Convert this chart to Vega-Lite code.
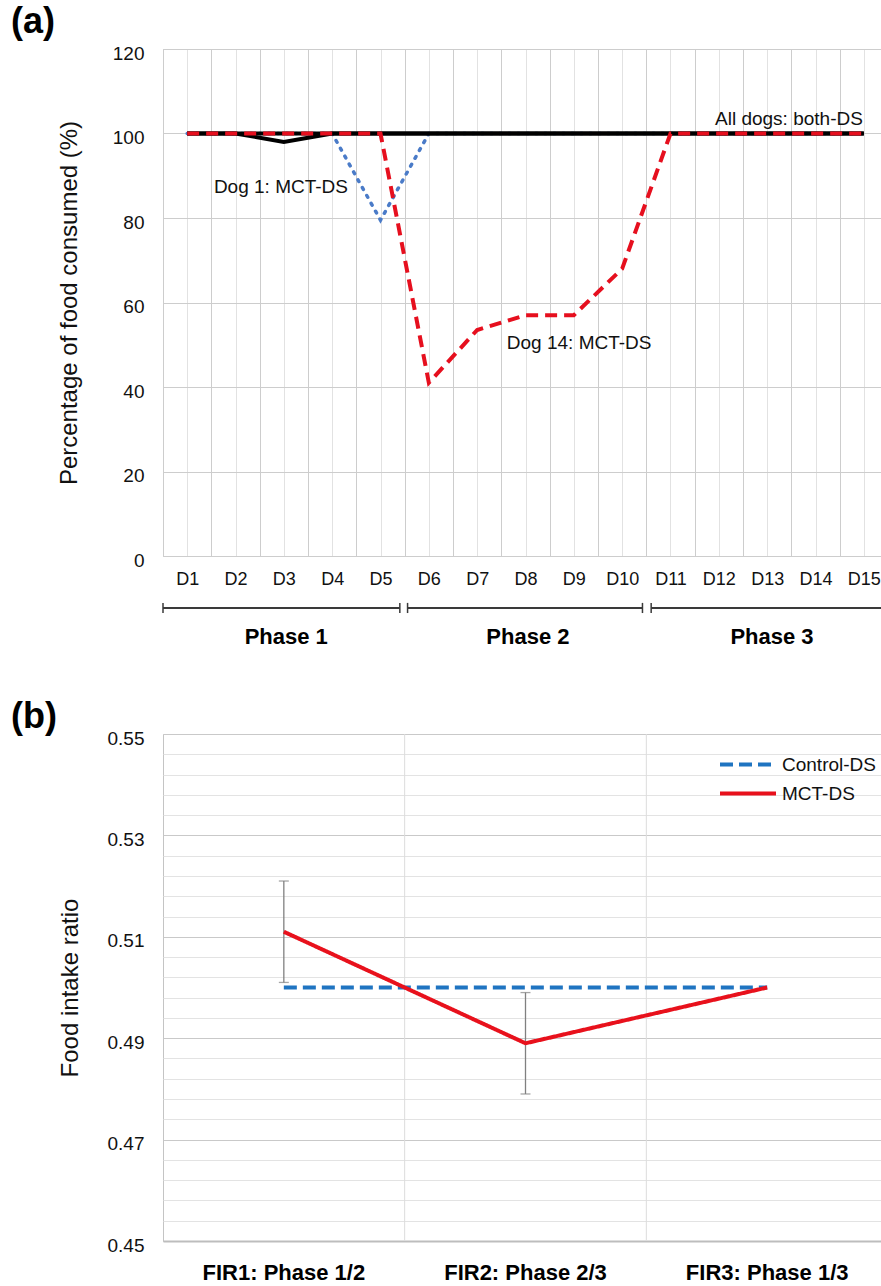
{
  "$schema": "https://vega.github.io/schema/vega-lite/v6.json",
  "background": "white",
  "padding": {"left": 10, "top": 3, "right": 0, "bottom": 0},
  "spacing": 49,
  "resolve": {"legend": {"color": "independent", "strokeDash": "independent"}},
  "config": {
    "font": "Liberation Sans",
    "view": {"stroke": "#c4c4c4", "strokeWidth": 1},
    "axis": {"labelColor": "#111", "titleColor": "#111", "labelFont": "Liberation Sans", "titleFont": "Liberation Sans", "titleFontWeight": "normal", "ticks": false, "domain": false, "labelFlush": false},
    "title": {"font": "Liberation Sans", "fontWeight": "bold", "fontSize": 36, "anchor": "start", "frame": "group", "dx": -152, "color": "#000"},
    "text": {"font": "Liberation Sans"}
  },
  "datasets": {
    "intake": [
      {"day": 1, "group": "All dogs: both-DS", "dog": "all", "pct": 100},
      {"day": 2, "group": "All dogs: both-DS", "dog": "all", "pct": 100},
      {"day": 3, "group": "All dogs: both-DS", "dog": "all", "pct": 100},
      {"day": 4, "group": "All dogs: both-DS", "dog": "all", "pct": 100},
      {"day": 5, "group": "All dogs: both-DS", "dog": "all", "pct": 100},
      {"day": 6, "group": "All dogs: both-DS", "dog": "all", "pct": 100},
      {"day": 7, "group": "All dogs: both-DS", "dog": "all", "pct": 100},
      {"day": 8, "group": "All dogs: both-DS", "dog": "all", "pct": 100},
      {"day": 9, "group": "All dogs: both-DS", "dog": "all", "pct": 100},
      {"day": 10, "group": "All dogs: both-DS", "dog": "all", "pct": 100},
      {"day": 11, "group": "All dogs: both-DS", "dog": "all", "pct": 100},
      {"day": 12, "group": "All dogs: both-DS", "dog": "all", "pct": 100},
      {"day": 13, "group": "All dogs: both-DS", "dog": "all", "pct": 100},
      {"day": 14, "group": "All dogs: both-DS", "dog": "all", "pct": 100},
      {"day": 15, "group": "All dogs: both-DS", "dog": "all", "pct": 100},
      {"day": 1, "group": "All dogs: both-DS", "dog": "dip", "pct": 100},
      {"day": 2, "group": "All dogs: both-DS", "dog": "dip", "pct": 100},
      {"day": 3, "group": "All dogs: both-DS", "dog": "dip", "pct": 98},
      {"day": 4, "group": "All dogs: both-DS", "dog": "dip", "pct": 100},
      {"day": 5, "group": "All dogs: both-DS", "dog": "dip", "pct": 100},
      {"day": 6, "group": "All dogs: both-DS", "dog": "dip", "pct": 100},
      {"day": 7, "group": "All dogs: both-DS", "dog": "dip", "pct": 100},
      {"day": 8, "group": "All dogs: both-DS", "dog": "dip", "pct": 100},
      {"day": 9, "group": "All dogs: both-DS", "dog": "dip", "pct": 100},
      {"day": 10, "group": "All dogs: both-DS", "dog": "dip", "pct": 100},
      {"day": 11, "group": "All dogs: both-DS", "dog": "dip", "pct": 100},
      {"day": 12, "group": "All dogs: both-DS", "dog": "dip", "pct": 100},
      {"day": 13, "group": "All dogs: both-DS", "dog": "dip", "pct": 100},
      {"day": 14, "group": "All dogs: both-DS", "dog": "dip", "pct": 100},
      {"day": 15, "group": "All dogs: both-DS", "dog": "dip", "pct": 100},
      {"day": 1, "group": "Dog 1: MCT-DS", "dog": "Dog 1", "pct": 100},
      {"day": 2, "group": "Dog 1: MCT-DS", "dog": "Dog 1", "pct": 100},
      {"day": 3, "group": "Dog 1: MCT-DS", "dog": "Dog 1", "pct": 100},
      {"day": 4, "group": "Dog 1: MCT-DS", "dog": "Dog 1", "pct": 100},
      {"day": 5, "group": "Dog 1: MCT-DS", "dog": "Dog 1", "pct": 79.5},
      {"day": 6, "group": "Dog 1: MCT-DS", "dog": "Dog 1", "pct": 100},
      {"day": 7, "group": "Dog 1: MCT-DS", "dog": "Dog 1", "pct": 100},
      {"day": 8, "group": "Dog 1: MCT-DS", "dog": "Dog 1", "pct": 100},
      {"day": 9, "group": "Dog 1: MCT-DS", "dog": "Dog 1", "pct": 100},
      {"day": 10, "group": "Dog 1: MCT-DS", "dog": "Dog 1", "pct": 100},
      {"day": 11, "group": "Dog 1: MCT-DS", "dog": "Dog 1", "pct": 100},
      {"day": 12, "group": "Dog 1: MCT-DS", "dog": "Dog 1", "pct": 100},
      {"day": 13, "group": "Dog 1: MCT-DS", "dog": "Dog 1", "pct": 100},
      {"day": 14, "group": "Dog 1: MCT-DS", "dog": "Dog 1", "pct": 100},
      {"day": 15, "group": "Dog 1: MCT-DS", "dog": "Dog 1", "pct": 100},
      {"day": 1, "group": "Dog 14: MCT-DS", "dog": "Dog 14", "pct": 100},
      {"day": 2, "group": "Dog 14: MCT-DS", "dog": "Dog 14", "pct": 100},
      {"day": 3, "group": "Dog 14: MCT-DS", "dog": "Dog 14", "pct": 100},
      {"day": 4, "group": "Dog 14: MCT-DS", "dog": "Dog 14", "pct": 100},
      {"day": 5, "group": "Dog 14: MCT-DS", "dog": "Dog 14", "pct": 100},
      {"day": 6, "group": "Dog 14: MCT-DS", "dog": "Dog 14", "pct": 41},
      {"day": 7, "group": "Dog 14: MCT-DS", "dog": "Dog 14", "pct": 53.5},
      {"day": 8, "group": "Dog 14: MCT-DS", "dog": "Dog 14", "pct": 57},
      {"day": 9, "group": "Dog 14: MCT-DS", "dog": "Dog 14", "pct": 57},
      {"day": 10, "group": "Dog 14: MCT-DS", "dog": "Dog 14", "pct": 68},
      {"day": 11, "group": "Dog 14: MCT-DS", "dog": "Dog 14", "pct": 100},
      {"day": 12, "group": "Dog 14: MCT-DS", "dog": "Dog 14", "pct": 100},
      {"day": 13, "group": "Dog 14: MCT-DS", "dog": "Dog 14", "pct": 100},
      {"day": 14, "group": "Dog 14: MCT-DS", "dog": "Dog 14", "pct": 100},
      {"day": 15, "group": "Dog 14: MCT-DS", "dog": "Dog 14", "pct": 100}
    ],
    "notes": [
      {"label": "All dogs: both-DS", "day": 13.45, "pct": 103.4},
      {"label": "Dog 1: MCT-DS", "day": 2.94, "pct": 87.3},
      {"label": "Dog 14: MCT-DS", "day": 9.11, "pct": 50.4}
    ],
    "phases": [
      {"phase": "Phase 1", "start": 0.5, "end": 5.4, "mid": 3.05},
      {"phase": "Phase 2", "start": 5.56, "end": 10.42, "mid": 8.05},
      {"phase": "Phase 3", "start": 10.6, "end": 15.5, "mid": 13.1}
    ],
    "fir": [
      {"fir": "FIR1: Phase 1/2", "diet": "Control-DS", "ratio": 0.5},
      {"fir": "FIR1: Phase 1/2", "diet": "MCT-DS", "ratio": 0.511, "lo": 0.501, "hi": 0.521},
      {"fir": "FIR2: Phase 2/3", "diet": "Control-DS", "ratio": 0.5},
      {"fir": "FIR2: Phase 2/3", "diet": "MCT-DS", "ratio": 0.489, "lo": 0.479, "hi": 0.499},
      {"fir": "FIR3: Phase 1/3", "diet": "Control-DS", "ratio": 0.5},
      {"fir": "FIR3: Phase 1/3", "diet": "MCT-DS", "ratio": 0.5}
    ]
  },
  "vconcat": [
    {
      "width": 725,
      "height": 507,
      "title": {"text": "(a)", "offset": 3},
      "layer": [
        {
          "data": {"name": "intake"},
          "transform": [{"filter": "datum.group == 'Dog 1: MCT-DS'"}],
          "mark": {"type": "line", "color": "#4a7bc8", "strokeWidth": 3.5, "strokeDash": [2, 7], "strokeCap": "round"},
          "encoding": {
            "x": {
              "field": "day", "type": "quantitative", "title": null,
              "scale": {"domain": [0.5, 15.5], "nice": false, "zero": false},
              "axis": {
                "orient": "bottom",
                "values": [1, 2, 3, 4, 5, 6, 7, 8, 9, 10, 11, 12, 13, 14, 15],
                "labelExpr": "'D' + datum.value",
                "labelOverlap": false,
                "labelFontSize": 18, "labelPadding": 14,
                "grid": true, "gridColor": "#e2e2e2"
              }
            },
            "y": {
              "field": "pct", "type": "quantitative", "title": "Percentage of food consumed (%)",
              "scale": {"domain": [0, 120], "nice": false},
              "axis": {"values": [0, 20, 40, 60, 80, 100, 120], "labelOverlap": false, "labelFontSize": 19, "labelPadding": 19, "labelOffset": 4, "titleFontSize": 24, "titlePadding": 31, "gridColor": "#cdcdcd"}
            }
          }
        },
        {
          "data": {"name": "intake"},
          "transform": [{"filter": "datum.group == 'All dogs: both-DS'"}],
          "mark": {"type": "line", "color": "#000000", "strokeWidth": 4},
          "encoding": {
            "x": {
              "field": "day", "type": "quantitative", "title": null,
              "axis": {"orient": "top", "values": [0.5, 1.5, 2.5, 3.5, 4.5, 5.5, 6.5, 7.5, 8.5, 9.5, 10.5, 11.5, 12.5, 13.5, 14.5, 15.5], "labels": false, "grid": true, "gridColor": "#cdcdcd", "title": null}
            },
            "y": {"field": "pct", "type": "quantitative", "title": "Percentage of food consumed (%)"},
            "detail": {"field": "dog"}
          }
        },
        {
          "data": {"name": "intake"},
          "transform": [{"filter": "datum.group == 'Dog 14: MCT-DS'"}],
          "mark": {"type": "line", "color": "#e60f1e", "strokeWidth": 4, "strokeDash": [12, 7]},
          "encoding": {
            "x": {"field": "day", "type": "quantitative", "title": null, "axis": null},
            "y": {"field": "pct", "type": "quantitative", "title": "Percentage of food consumed (%)"}
          }
        },
        {
          "data": {"name": "notes"},
          "mark": {"type": "text", "fontSize": 19, "color": "#111", "align": "center", "baseline": "middle"},
          "encoding": {
            "x": {"field": "day", "type": "quantitative", "title": null, "axis": null},
            "y": {"field": "pct", "type": "quantitative", "title": "Percentage of food consumed (%)"},
            "text": {"field": "label"}
          }
        },
        {
          "data": {"name": "phases"},
          "mark": {"type": "rule", "color": "#3a3a3a", "strokeWidth": 2},
          "encoding": {
            "x": {"field": "start", "type": "quantitative", "title": null, "axis": null},
            "x2": {"field": "end"},
            "y": {"datum": -12.3}
          }
        },
        {
          "data": {"name": "phases"},
          "mark": {"type": "rule", "color": "#3a3a3a", "strokeWidth": 1.5},
          "encoding": {
            "x": {"field": "start", "type": "quantitative", "title": null, "axis": null},
            "y": {"datum": -11.1},
            "y2": {"datum": -13.5}
          }
        },
        {
          "data": {"name": "phases"},
          "mark": {"type": "rule", "color": "#3a3a3a", "strokeWidth": 1.5},
          "encoding": {
            "x": {"field": "end", "type": "quantitative", "title": null, "axis": null},
            "y": {"datum": -11.1},
            "y2": {"datum": -13.5}
          }
        },
        {
          "data": {"name": "phases"},
          "mark": {"type": "text", "fontSize": 22, "fontWeight": "bold", "color": "#000", "align": "center", "baseline": "middle"},
          "encoding": {
            "x": {"field": "mid", "type": "quantitative", "title": null, "axis": null},
            "y": {"datum": -19.2},
            "text": {"field": "phase"}
          }
        }
      ]
    },
    {
      "width": 725,
      "height": 507,
      "title": {"text": "(b)", "offset": -7},
      "layer": [
        {
          "data": {"name": "fir"},
          "transform": [{"filter": "datum.diet == 'Control-DS' && datum.fir != 'FIR1: Phase 1/2'"}],
          "mark": {"type": "rule", "color": "#dcdcdc", "strokeWidth": 1},
          "encoding": {
            "x": {
              "field": "fir", "type": "nominal", "title": null, "bandPosition": 0,
              "scale": {"type": "band", "paddingInner": 0, "paddingOuter": 0, "domain": ["FIR1: Phase 1/2", "FIR2: Phase 2/3", "FIR3: Phase 1/3"]},
              "axis": {"labelAngle": 0, "labelFontSize": 22, "labelFontWeight": "bold", "labelColor": "#000", "labelPadding": 21, "grid": false, "domain": true, "domainColor": "#bdbdbd", "domainWidth": 2}
            }
          }
        },
        {
          "data": {"name": "fir"},
          "transform": [{"filter": "isValid(datum.lo)"}],
          "mark": {"type": "rule", "color": "#808080", "strokeWidth": 1.3},
          "encoding": {
            "x": {"field": "fir", "type": "nominal", "title": null},
            "y": {
              "field": "lo", "type": "quantitative", "title": null,
              "scale": {"domain": [0.45, 0.55], "nice": false, "zero": false},
              "axis": {"orient": "right", "values": [0.454, 0.458, 0.462, 0.466, 0.474, 0.478, 0.482, 0.486, 0.494, 0.498, 0.502, 0.506, 0.514, 0.518, 0.522, 0.526, 0.534, 0.538, 0.542, 0.546], "labels": false, "grid": true, "gridColor": "#e3e3e3", "title": null}
            },
            "y2": {"field": "hi"}
          }
        },
        {
          "data": {"name": "fir"},
          "transform": [{"filter": "isValid(datum.lo)"}],
          "mark": {"type": "tick", "color": "#808080", "thickness": 1.3, "size": 10},
          "encoding": {
            "x": {"field": "fir", "type": "nominal", "title": null},
            "y": {"field": "lo", "type": "quantitative", "title": null, "axis": null}
          }
        },
        {
          "data": {"name": "fir"},
          "transform": [{"filter": "isValid(datum.hi)"}],
          "mark": {"type": "tick", "color": "#808080", "thickness": 1.3, "size": 10},
          "encoding": {
            "x": {"field": "fir", "type": "nominal", "title": null},
            "y": {"field": "hi", "type": "quantitative", "title": null, "axis": null}
          }
        },
        {
          "data": {"name": "fir"},
          "mark": {"type": "line", "strokeWidth": 4},
          "encoding": {
            "x": {"field": "fir", "type": "nominal", "title": null},
            "y": {
              "field": "ratio", "type": "quantitative", "title": "Food intake ratio",
              "scale": {"domain": [0.45, 0.55], "nice": false, "zero": false},
              "axis": {
                "orient": "left",
                "values": [0.45, 0.47, 0.49, 0.51, 0.53, 0.55],
                "format": ".2f",
                "labelOverlap": false,
                "labelFontSize": 19, "labelPadding": 19, "labelOffset": 4, "titleFontSize": 24, "titlePadding": 25,
                "grid": true, "gridColor": "#c9c9c9"
              }
            },
            "color": {
              "field": "diet", "type": "nominal", "title": null,
              "scale": {"domain": ["Control-DS", "MCT-DS"], "range": ["#1f74c1", "#e8111c"]},
              "legend": {"orient": "none", "legendX": 555, "legendY": 16, "symbolType": "stroke", "symbolSize": 3136, "symbolStrokeWidth": 4, "clipHeight": 29, "labelFontSize": 19, "labelOffset": 4, "labelColor": "#111", "rowPadding": 0, "padding": 0, "title": null}
            },
            "strokeDash": {
              "field": "diet", "type": "nominal", "title": null,
              "scale": {"domain": ["Control-DS", "MCT-DS"], "range": [[13, 6], [1, 0]]},
              "legend": {"orient": "none", "legendX": 555, "legendY": 16, "symbolType": "stroke", "symbolSize": 3136, "symbolStrokeWidth": 4, "clipHeight": 29, "labelFontSize": 19, "labelOffset": 4, "labelColor": "#111", "rowPadding": 0, "padding": 0, "title": null}
            }
          }
        }
      ]
    }
  ]
}
